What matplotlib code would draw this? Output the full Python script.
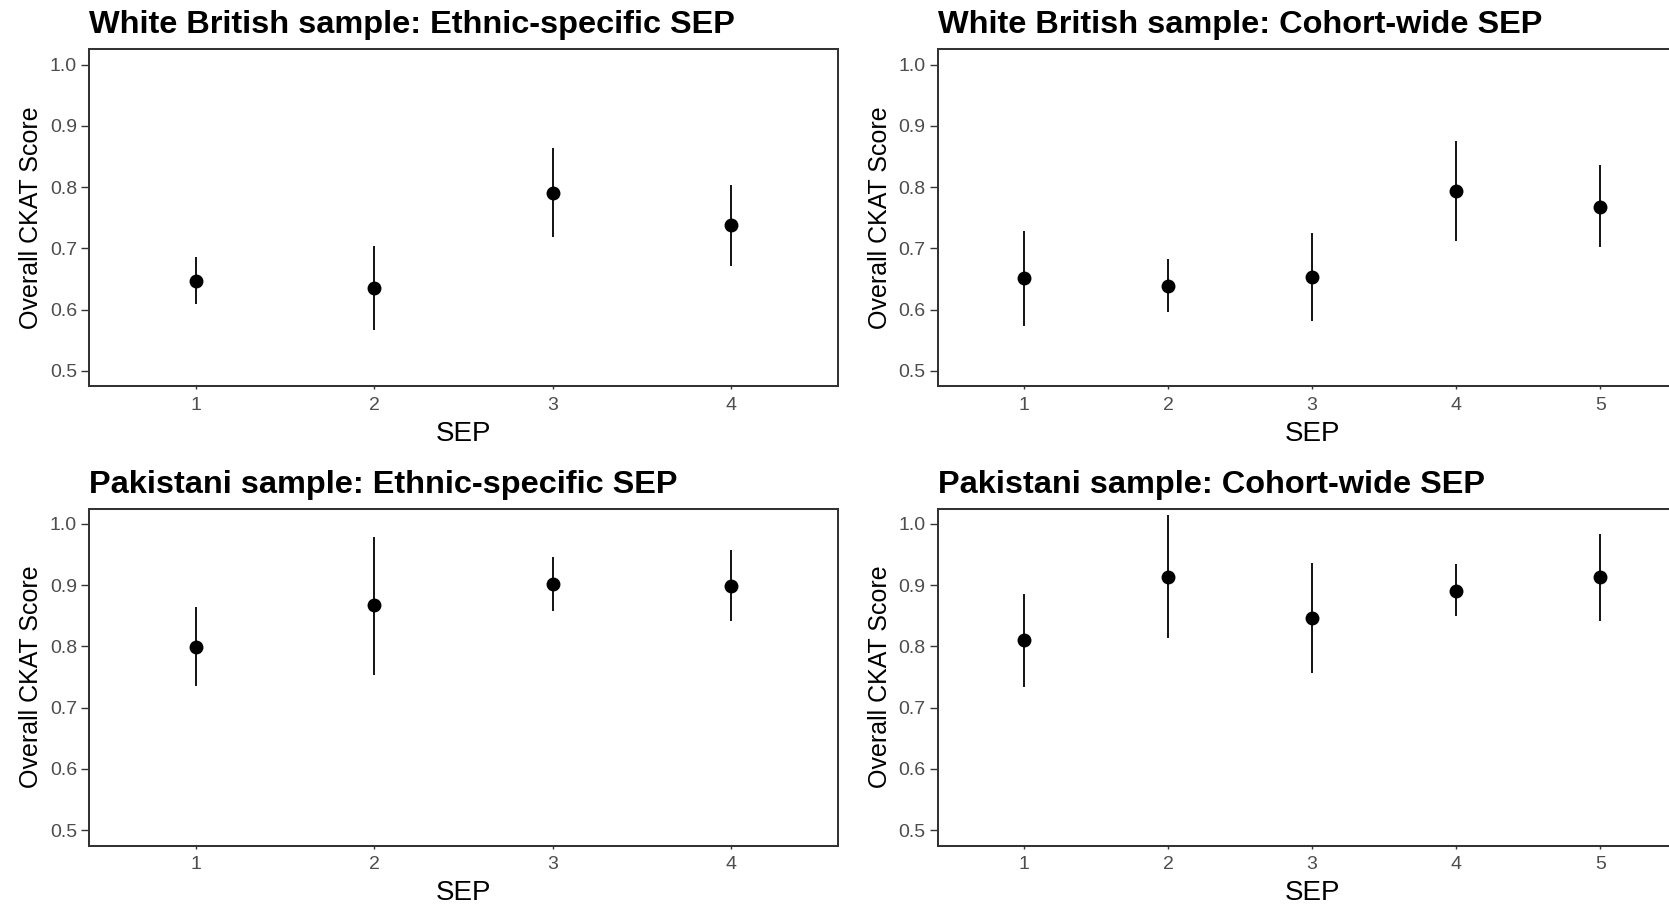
import matplotlib

matplotlib.use("Agg")
import matplotlib.pyplot as plt
import numpy as np

plt.rcParams["font.family"] = ["Liberation Sans", "DejaVu Sans"]

# point estimates and 95% CIs of the overall CKAT score by SEP group
wb_eth_sep = [1, 2, 3, 4]
wb_eth_est = [0.647, 0.636, 0.791, 0.739]
wb_eth_lo = [0.609, 0.567, 0.719, 0.672]
wb_eth_hi = [0.686, 0.704, 0.864, 0.804]

wb_coh_sep = [1, 2, 3, 4, 5]
wb_coh_est = [0.652, 0.639, 0.654, 0.793, 0.768]
wb_coh_lo = [0.574, 0.597, 0.582, 0.712, 0.702]
wb_coh_hi = [0.729, 0.682, 0.726, 0.876, 0.836]

pk_eth_sep = [1, 2, 3, 4]
pk_eth_est = [0.799, 0.867, 0.901, 0.899]
pk_eth_lo = [0.735, 0.754, 0.857, 0.842]
pk_eth_hi = [0.864, 0.978, 0.946, 0.957]

pk_coh_sep = [1, 2, 3, 4, 5]
pk_coh_est = [0.811, 0.914, 0.846, 0.891, 0.914]
pk_coh_lo = [0.734, 0.814, 0.757, 0.849, 0.842]
pk_coh_hi = [0.886, 1.014, 0.936, 0.934, 0.984]

titles = [
    "White British sample: Ethnic-specific SEP",
    "White British sample: Cohort-wide SEP",
    "Pakistani sample: Ethnic-specific SEP",
    "Pakistani sample: Cohort-wide SEP",
]
y_ticks = [0.5, 0.6, 0.7, 0.8, 0.9, 1.0]

W, H = 1669, 908
AX_W, AX_H = 749.3, 337.0


def px_axes(fig, left, top):
    return fig.add_axes([left / W, (H - top - AX_H) / H, AX_W / W, AX_H / H])


def panel(ax, title, sep, est, lo, hi):
    est = np.asarray(est)
    yerr = [est - np.asarray(lo), np.asarray(hi) - est]
    ax.errorbar(sep, est, yerr=yerr, fmt="o", color="black", ms=9,
                elinewidth=1.3, capsize=0)
    ax.set_xlim(0.4, len(sep) + 0.6)
    ax.set_ylim(0.475, 1.025)
    ax.set_xticks(sep)
    ax.set_yticks(y_ticks)
    ax.set_yticklabels([f"{v:.1f}" for v in y_ticks])
    for s in ax.spines.values():
        s.set_color("#333333")
        s.set_linewidth(1.45)
    ax.tick_params(axis="both", colors="#333333", labelcolor="#4D4D4D",
                   labelsize=14, width=1.0)
    ax.tick_params(axis="y", length=5.5, pad=3)
    ax.tick_params(axis="x", length=2.5, pad=5)
    ax.set_xlabel("SEP", fontsize=20, labelpad=5)
    ax.set_ylabel("Overall CKAT Score", fontsize=18, labelpad=5)
    ax.set_title(title, loc="left", fontsize=23.4, fontweight="bold", pad=11.5)


fig = plt.figure(figsize=(W / 100, H / 100), dpi=100)
ax1 = px_axes(fig, 88.7, 49.3)
ax2 = px_axes(fig, 937.5, 49.3)
ax3 = px_axes(fig, 88.7, 508.5)
ax4 = px_axes(fig, 937.5, 508.5)

panel(ax1, titles[0], wb_eth_sep, wb_eth_est, wb_eth_lo, wb_eth_hi)
panel(ax2, titles[1], wb_coh_sep, wb_coh_est, wb_coh_lo, wb_coh_hi)
panel(ax3, titles[2], pk_eth_sep, pk_eth_est, pk_eth_lo, pk_eth_hi)
panel(ax4, titles[3], pk_coh_sep, pk_coh_est, pk_coh_lo, pk_coh_hi)

fig.savefig("out.png", dpi=100)
